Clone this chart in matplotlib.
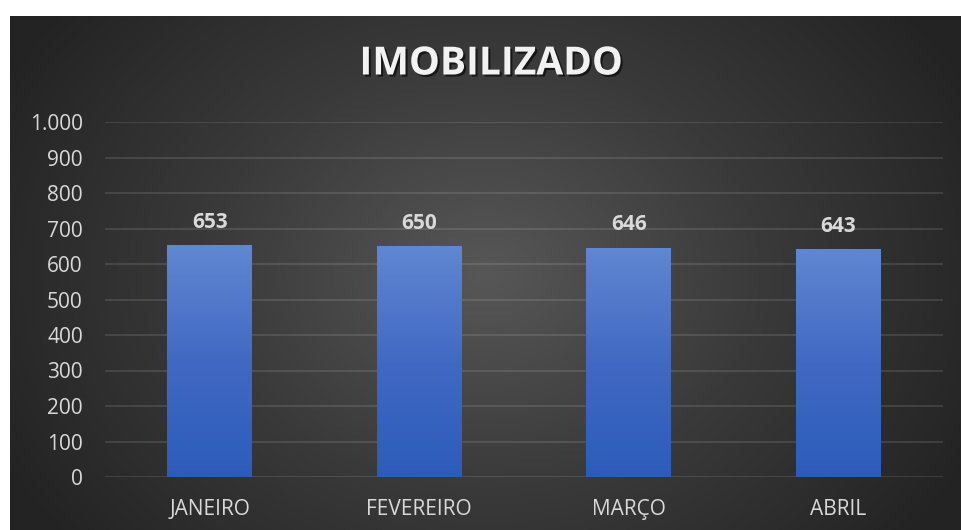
import numpy as np
import matplotlib.pyplot as plt
import matplotlib.patheffects as pe
from matplotlib.colors import LinearSegmentedColormap

months = ["JANEIRO", "FEVEREIRO", "MARÇO", "ABRIL"]
values = [653, 650, 646, 643]
yticks = [0, 100, 200, 300, 400, 500, 600, 700, 800, 900, 1000]
ytick_labels = ["0", "100", "200", "300", "400", "500", "600", "700", "800", "900", "1.000"]

W, H = 961, 530
fig = plt.figure(figsize=(W / 100, H / 100), dpi=100)
fig.patch.set_facecolor("white")

# dark radial background of the chart area
bg = fig.add_axes([10 / W, 0, (W - 10) / W, (H - 16) / H])
bg.set_axis_off()
yy, xx = np.mgrid[0:1:300j, 0:1:500j]
r = np.sqrt(((xx - 0.5) * 1.3) ** 2 + ((yy - 0.5) * 0.9) ** 2)
r = np.clip(r / 0.75, 0, 1)
bg_cmap = LinearSegmentedColormap.from_list("bg", ["#575757", "#3a3a3a", "#232323"])
bg.imshow(r, cmap=bg_cmap, aspect="auto", extent=[0, 1, 0, 1], vmin=0, vmax=1)
bg.set_xlim(0, 1)
bg.set_ylim(0, 1)

ax = fig.add_axes([105 / W, (H - 477) / H, (943 - 105) / W, (477 - 122) / H])
ax.patch.set_alpha(0)
x = np.arange(len(months))
bars = ax.bar(x, values, width=0.405, color="#4472c4", zorder=3,
              path_effects=[pe.SimplePatchShadow(offset=(0, -2), shadow_rgbFace="black", alpha=0.5), pe.Normal()])

bar_cmap = LinearSegmentedColormap.from_list("bar", ["#2c5cbb", "#4169c3", "#6087d1"])
grad = np.linspace(0, 1, 256).reshape(-1, 1)
for b in bars:
    im = ax.imshow(grad, cmap=bar_cmap, origin="lower", aspect="auto",
                   extent=[b.get_x(), b.get_x() + b.get_width(), 0, b.get_height()], zorder=4)
    im.set_clip_path(b)

for xi, v in zip(x, values):
    ax.text(xi, v + 64, str(v), ha="center", va="center", fontsize=15, fontweight="bold",
            color="#d9d9d9", family="Open Sans", zorder=5)

ax.set_xlim(-0.5, len(months) - 0.5)
ax.set_ylim(0, 1000)
ax.set_yticks(yticks)
ax.set_yticklabels(ytick_labels)
ax.set_xticks(x)
ax.set_xticklabels(months)
ax.grid(axis="y", color="white", alpha=0.12, linewidth=1.3, zorder=0)
ax.set_axisbelow(True)
for s in ax.spines.values():
    s.set_visible(False)
ax.tick_params(length=0, colors="#d9d9d9", labelsize=15)
ax.tick_params(axis="y", pad=16)
ax.tick_params(axis="x", pad=16)
for lab in ax.get_xticklabels() + ax.get_yticklabels():
    lab.set_family("Open Sans")
for lab in ax.get_yticklabels():
    lab.set_horizontalalignment("right")

fig.text(491 / W, 1 - 64 / H, "IMOBILIZADO", ha="center", va="center",
         fontsize=28, fontweight="bold", color="#f2f2f2", family="Open Sans",
         path_effects=[pe.withSimplePatchShadow(offset=(1.5, -1.5), shadow_rgbFace="black", alpha=0.6)])

fig.savefig("out.png", dpi=100, facecolor=fig.get_facecolor())
